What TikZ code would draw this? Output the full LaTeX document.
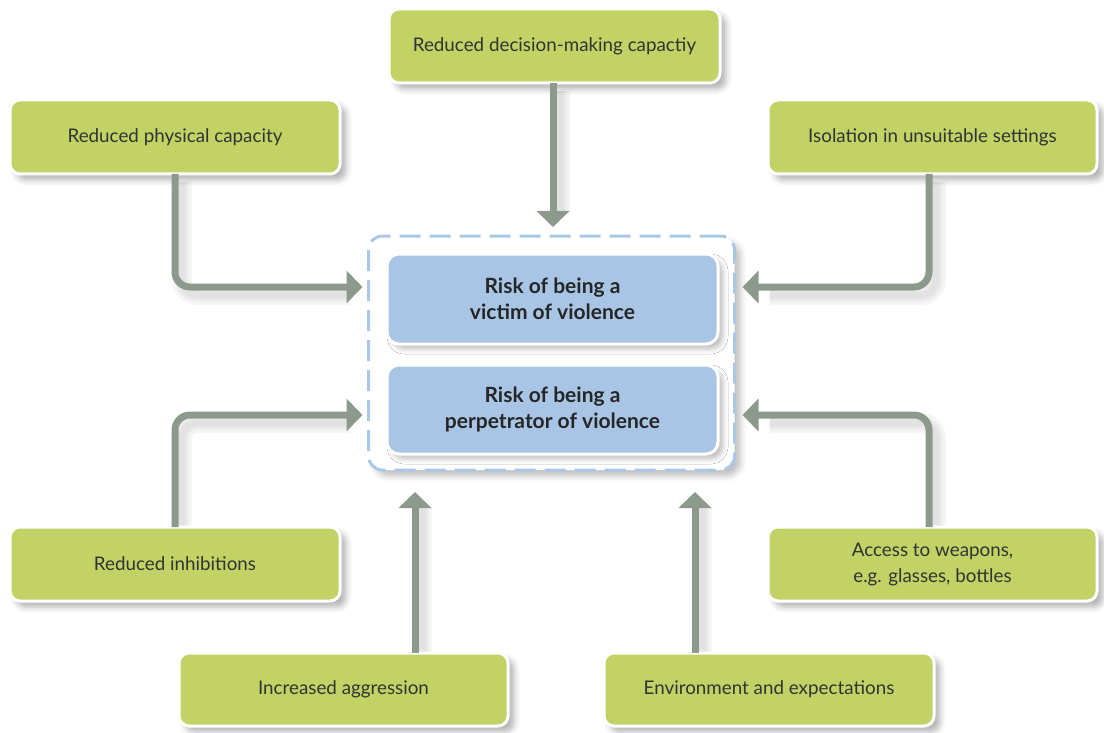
\documentclass[tikz,border=0pt]{standalone}
\usepackage{fontspec}
\setmainfont{Lato}
\usetikzlibrary{arrows.meta,calc,shadows.blur,backgrounds}
\definecolor{boxgreen}{HTML}{C2D265}
\definecolor{boxblue}{HTML}{A8C5E5}
\definecolor{dashblue}{HTML}{A9C8E8}
\definecolor{arrgray}{HTML}{8C9A8C}
\definecolor{txtgray}{HTML}{333333}
\tikzset{
  factor/.style={rectangle, rounded corners=10pt, fill=boxgreen, draw=white, line width=3pt,
    outer sep=0pt, inner sep=0pt, align=center, text=txtgray, font=\fontsize{18.8}{26}\selectfont,
    blur shadow={shadow xshift=6pt, shadow yshift=-6pt, shadow blur radius=6pt, shadow opacity=30}},
  riskbox/.style={rectangle, rounded corners=12pt, fill=boxblue, draw=white, line width=3pt,
    outer sep=0pt, inner sep=0pt, align=center, text=black!85, font=\bfseries\fontsize{21}{26}\selectfont,
    blur shadow={shadow xshift=5pt, shadow yshift=-5pt, shadow blur radius=5pt, shadow opacity=25}},
  group/.style={rectangle, rounded corners=14pt, fill=white, draw=dashblue, line width=3pt,
    dash pattern=on 21pt off 9pt, outer sep=0pt, inner sep=0pt,
    blur shadow={shadow xshift=6pt, shadow yshift=-6pt, shadow blur radius=6pt, shadow opacity=25}},
  arr/.style={draw=arrgray, line width=7pt, rounded corners=15pt, -{Triangle[width=32pt,length=16pt]}},
  arrshadowA/.style={draw=black, draw opacity=0.04, line width=20pt, rounded corners=15pt, transform canvas={xshift=7pt,yshift=-8pt}},
  arrshadowB/.style={draw=black, draw opacity=0.04, line width=13pt, rounded corners=15pt, transform canvas={xshift=7pt,yshift=-8pt}},
  arrshadowC/.style={draw=black, draw opacity=0.04, line width=7pt, rounded corners=15pt, transform canvas={xshift=7pt,yshift=-8pt}},
}
\begin{document}
\begin{tikzpicture}[x=1pt,y=-1pt]
\useasboundingbox (0,0) rectangle (1104,733);
% nodes
\node[group, minimum width=366pt, minimum height=234pt] (outer) at (551.5,353) {};
\node[riskbox, minimum width=331pt, minimum height=90pt] (victim) at (552.5,299) {Risk of being a\\victim of violence};
\node[riskbox, minimum width=331pt, minimum height=89pt] (perp) at (552.5,409.5) {Risk of being a\\perpetrator of violence};

\node[factor, minimum width=331pt, minimum height=74pt] (dec) at (554.5,46) {Reduced decision-making capactiy};
\node[factor, minimum width=330pt, minimum height=74pt] (phys) at (175,137) {Reduced physical capacity};
\node[factor, minimum width=329pt, minimum height=74pt] (iso) at (932.5,137) {Isolation in unsuitable settings};
\node[factor, minimum width=330pt, minimum height=74pt] (inh) at (175,564) {Reduced inhibitions};
\node[factor, minimum width=329pt, minimum height=74pt] (weap) at (932.5,564) {Access to weapons,\\e.g. glasses, bottles};
\node[factor, minimum width=329pt, minimum height=73pt] (agg) at (343.5,689.5) {Increased aggression};
\node[factor, minimum width=330pt, minimum height=73pt] (env) at (769,689.5) {Environment and expectations};

% connector end points
\coordinate (decout) at ($(dec.south)+(-1.5,0)$);
\coordinate (isoout) at ($(iso.south)+(-3.5,0)$);
\coordinate (weapout) at ($(weap.north)+(-3.5,0)$);
\coordinate (aggout) at ($(agg.north)+(71.5,0)$);
\coordinate (envout) at ($(env.north)+(-74,0)$);
\coordinate (pinA) at ($(outer.west |- victim.center)+(-6,-12)$);
\coordinate (pinB) at ($(outer.east |- victim.center)+(8,-12)$);
\coordinate (pinC) at ($(outer.west |- perp.center)+(-6,5.5)$);
\coordinate (pinD) at ($(outer.east |- perp.center)+(8,5.5)$);

\begin{pgfonlayer}{background}
\foreach \s in {arrshadowA,arrshadowB,arrshadowC}{
\draw[\s] (decout) -- ($(decout |- outer.north)+(0,-30)$);
\draw[\s] (phys.south) |- ($(pinA)+(-20,0)$);
\draw[\s] (isoout) |- ($(pinB)+(20,0)$);
\draw[\s] (inh.north) |- ($(pinC)+(-20,0)$);
\draw[\s] (weapout) |- ($(pinD)+(20,0)$);
\draw[\s] (aggout) -- ($(aggout |- outer.south)+(0,30)$);
\draw[\s] (envout) -- ($(envout |- outer.south)+(0,30)$);
}
\end{pgfonlayer}

% connectors
\draw[arr] (decout) -- ($(decout |- outer.north)+(0,-9)$);
\draw[arr] (phys.south) |- (pinA);
\draw[arr] (isoout) |- (pinB);
\draw[arr] (inh.north) |- (pinC);
\draw[arr] (weapout) |- (pinD);
\draw[arr] (aggout) -- ($(aggout |- outer.south)+(0,22)$);
\draw[arr] (envout) -- ($(envout |- outer.south)+(0,22)$);
\end{tikzpicture}
\end{document}
